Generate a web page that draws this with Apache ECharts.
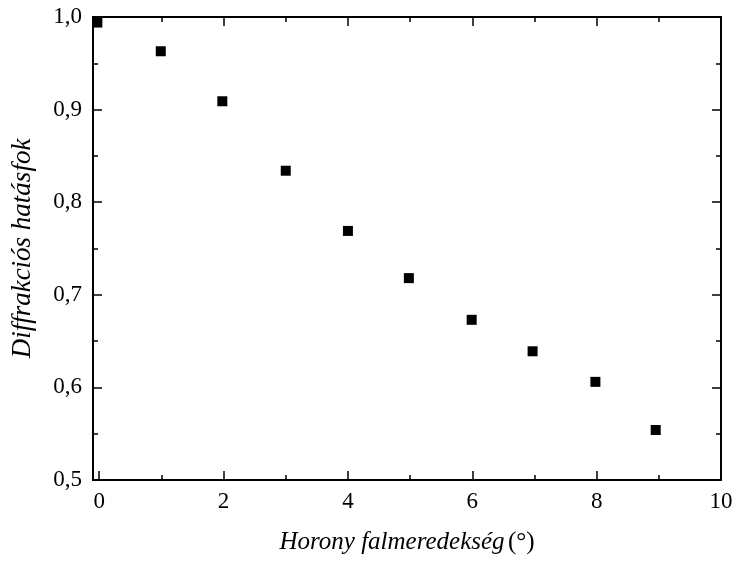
<!DOCTYPE html>
<html>
<head>
<meta charset="utf-8">
<script src="https://cdn.jsdelivr.net/npm/echarts@6/dist/echarts.min.js"></script>
<style>
  html, body { margin: 0; padding: 0; background: #fff; }
  #chart { width: 737px; height: 563px; }
</style>
</head>
<body>
<div id="chart"></div>
<script>
// adatok
const slopes = [-0.03, 0.99, 1.98, 3.0, 4.0, 4.98, 5.99, 6.97, 7.98, 8.95];
const efficiency = [0.994, 0.963, 0.909, 0.834, 0.769, 0.718, 0.673, 0.639, 0.606, 0.554];
const xMajorTicks = [0, 2, 4, 6, 8, 10];
const xMinorTicks = [1, 3, 5, 7, 9];

const font = "'Liberation Serif', 'Times New Roman', serif";
const lineStyle = { color: '#000', width: 2 };

// x tengely: alul/felül, fő és mellék osztások
function xAxis(position, major, showLabel) {
  return {
    type: 'value',
    position: position,
    min: -0.1,
    max: 10,
    axisLine: { show: major, onZero: false, lineStyle: lineStyle },
    axisTick: {
      show: true,
      inside: true,
      length: major ? 9 : 5,
      customValues: major ? xMajorTicks : xMinorTicks,
      lineStyle: { color: '#000', width: 1.5 }
    },
    axisLabel: {
      show: showLabel,
      customValues: xMajorTicks,
      margin: 10,
      color: '#000',
      fontFamily: font,
      fontSize: 23
    },
    splitLine: { show: false }
  };
}

function yAxis(position, showLabel) {
  return {
    type: 'value',
    position: position,
    min: 0.5,
    max: 1.0,
    interval: 0.1,
    axisLine: { show: true, onZero: false, lineStyle: lineStyle },
    axisTick: { show: true, inside: true, length: 9, lineStyle: { color: '#000', width: 1.5 } },
    minorTick: { show: true, splitNumber: 2, length: 5, lineStyle: { color: '#000', width: 1.5 } },
    axisLabel: {
      show: showLabel,
      margin: 11,
      color: '#000',
      fontFamily: font,
      fontSize: 23,
      formatter: v => v.toFixed(1).replace('.', ',')
    },
    splitLine: { show: false }
  };
}

const myChart = echarts.init(document.getElementById('chart'));

const xs = [
  xAxis('bottom', true, true),
  xAxis('bottom', false, false),
  xAxis('top', true, false),
  xAxis('top', false, false)
];
xs[0].name = '{i|Horony falmeredekség} {n|(°)}';
xs[0].nameLocation = 'middle';
xs[0].nameGap = 50;
xs[0].nameTextStyle = {
  rich: {
    i: { fontFamily: font, fontStyle: 'italic', fontSize: 25, color: '#000' },
    n: { fontFamily: font, fontSize: 25, color: '#000' }
  }
};

const ys = [yAxis('left', true), yAxis('right', false)];
ys[0].name = 'Diffrakciós hatásfok';
ys[0].nameLocation = 'middle';
ys[0].nameGap = 57;
ys[0].nameTextStyle = { fontFamily: font, fontStyle: 'italic', fontSize: 27, color: '#000' };

const option = {
  animation: false,
  backgroundColor: '#fff',
  grid: { left: 93, right: 16, top: 17, bottom: 83, containLabel: false },
  xAxis: xs,
  yAxis: ys,
  series: [
    {
      type: 'scatter',
      xAxisIndex: 0,
      yAxisIndex: 0,
      symbol: 'rect',
      symbolSize: 10,
      itemStyle: { color: '#000', opacity: 1 },
      data: slopes.map((x, i) => [x, efficiency[i]])
    }
  ]
};
myChart.setOption(option);
</script>
</body>
</html>
